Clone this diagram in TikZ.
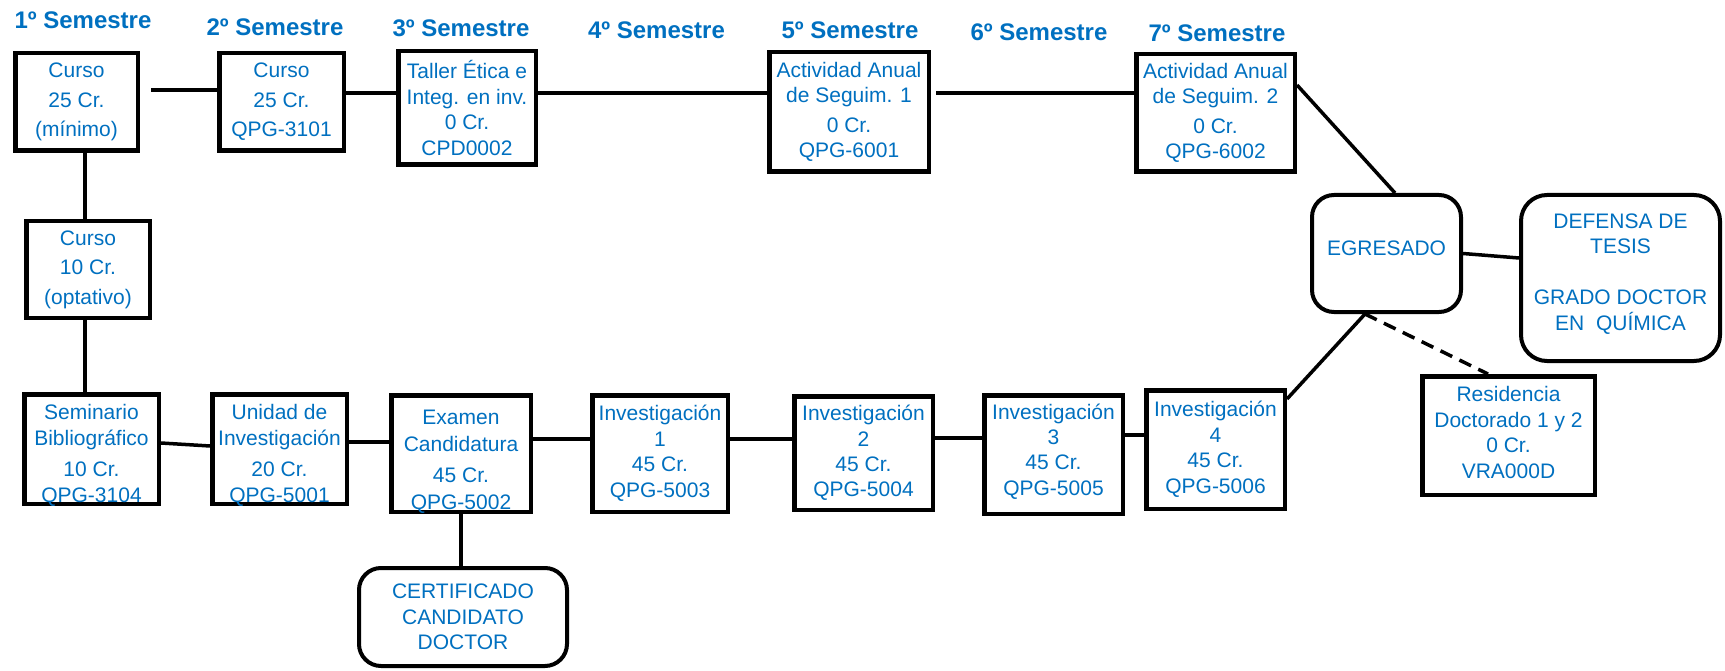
\documentclass[tikz,border=0pt]{standalone}
\usepackage{fontspec}
\setmainfont{Liberation Sans}
\definecolor{txtblue}{HTML}{0070C0}
\begin{document}
\begin{tikzpicture}[x=1pt,y=-1pt,
  box/.style={draw=black, line width=4.5pt, fill=white, inner sep=0pt},
  rbox/.style={box, line width=4pt, rounded corners=22pt},
  txt/.style={inner sep=0pt, align=center, text=txtblue, font=\fontsize{21}{25.5}\selectfont},
  widetxt/.style={txt, font=\fontsize{21}{29.5}\selectfont},
  semlabel/.style={text=txtblue, font=\fontsize{24}{28}\selectfont\bfseries, inner sep=0pt},
  conn/.style={draw=black, line width=3.5pt},
  dconn/.style={conn, dash pattern=on 13pt off 8pt}
]
\useasboundingbox (0,0) rectangle (1725,671);

% semester labels
\node[semlabel] (s1) at (83,20) {1º Semestre};
\node[semlabel] (s2) at (275,27) {2º Semestre};
\node[semlabel] (s3) at (461,28) {3º Semestre};
\node[semlabel] (s4) at (656.5,30) {4º Semestre};
\node[semlabel] (s5) at (850,30) {5º Semestre};
\node[semlabel] (s6) at (1039,32) {6º Semestre};
\node[semlabel] (s7) at (1217,33) {7º Semestre};

% ---------- boxes ----------
% top row
\node[box, minimum width=122.5, minimum height=97.5] (b1) at (76.5,102) {};
\node[widetxt] (b1t) at (b1.center) {Curso\\25 Cr.\\(mínimo)};
\node[box, minimum width=124.5, minimum height=97.5] (b2) at (281.5,102) {};
\node[widetxt] (b2t) at (b2.center) {Curso\\25 Cr.\\QPG-3101};
\node[box, minimum width=137.5, minimum height=113.5] (b3) at (467,108) {};
\node[txt] (b3t) at (b3.center) {Taller Ética e\\Integ. en inv.\\0 Cr.\\CPD0002};
\node[box, minimum width=159.5, minimum height=119.5] (b5) at (849,112) {};
\node[txt] (b5t) at (b5.center) {Actividad Anual\\de Seguim. 1\\[4pt]0 Cr.\\QPG-6001};
\node[box, minimum width=158.5, minimum height=117.5] (b7) at (1215.5,113) {};
\node[txt] (b7t) at (b7.center) {Actividad Anual\\de Seguim. 2\\[4pt]0 Cr.\\QPG-6002};

% left column
\node[box, minimum width=123.5, minimum height=96.5] (c10) at (88,269.5) {};
\node[widetxt] (c10t) at (c10.center) {Curso\\10 Cr.\\(optativo)};

% bottom row
\node[box, minimum width=134.5, minimum height=109.5] (sem) at (91.5,449) {};
\node[txt, font=\fontsize{21}{26.5}\selectfont] (semt) at ([yshift=-6.5pt]sem.center) {Seminario\\Bibliográfico\\[4pt]10 Cr.\\QPG-3104};
\node[box, minimum width=134.5, minimum height=109.5] (uni) at (279.5,449) {};
\node[txt, font=\fontsize{21}{26.5}\selectfont] (unit) at ([yshift=-6.5pt]uni.center) {Unidad de\\Investigación\\[4pt]20 Cr.\\QPG-5001};
\node[box, minimum width=139.5, minimum height=116.5] (exa) at (461,453.5) {};
\node[txt, font=\fontsize{21}{27}\selectfont] (exat) at ([yshift=-8.5pt]exa.center) {Examen\\Candidatura\\[4pt]45 Cr.\\QPG-5002};
\node[box, minimum width=135.5, minimum height=116.5] (inv1) at (660,453.5) {};
\node[txt] (inv1t) at (inv1.center) {Investigación\\1\\45 Cr.\\QPG-5003};
\node[box, minimum width=138.5, minimum height=113.5] (inv2) at (863.5,453) {};
\node[txt] (inv2t) at (inv2.center) {Investigación\\2\\45 Cr.\\QPG-5004};
\node[box, minimum width=138.5, minimum height=118.5] (inv3) at (1053.5,454.5) {};
\node[txt] (inv3t) at ([yshift=3pt]inv3.center) {Investigación\\3\\45 Cr.\\QPG-5005};
\node[box, minimum width=138.5, minimum height=118.5] (inv4) at (1215.5,449.5) {};
\node[txt] (inv4t) at (inv4.center) {Investigación\\4\\45 Cr.\\QPG-5006};

\node[rbox, minimum width=208, minimum height=98] (cert) at (463,617) {};
\node[txt] (certt) at (cert.center) {CERTIFICADO\\CANDIDATO\\DOCTOR};

% right side
\node[rbox, minimum width=149, minimum height=117] (egr) at (1386.5,253.5) {};
\node[txt] (egrt) at ([yshift=5pt]egr.center) {EGRESADO};
\node[rbox, minimum width=199, minimum height=166, rounded corners=26pt] (def) at (1620.5,278) {};
\node[txt] (deft) at ([yshift=4pt]def.center) {DEFENSA DE\\TESIS\\[25.5pt]GRADO DOCTOR\\EN~ QUÍMICA};
\node[box, minimum width=172.5, minimum height=118.5] (res) at (1508.5,435.5) {};
\node[txt] (rest) at ([yshift=3pt]res.center) {Residencia\\Doctorado 1 y 2\\0 Cr.\\VRA000D};

% ---------- connectors ----------
% top row
\draw[conn] ([xshift=11pt,yshift=12pt]b1.east) -- ([yshift=12pt]b2.west);
\draw[conn] ([yshift=9pt]b2.east) -- ([yshift=15pt]b3.west);
\draw[conn] ([yshift=15pt]b3.east) -- ([yshift=19pt]b5.west);
\draw[conn] ([xshift=5pt,yshift=19pt]b5.east) -- ([yshift=20pt]b7.west);
\draw[conn] ([yshift=28pt]b7.east) -- ([xshift=8.5pt]egr.north);

% left column
\draw[conn] ([xshift=8.5pt]b1.south) -- ([xshift=-3pt]c10.north);
\draw[conn] ([xshift=-3pt]c10.south) -- ([xshift=-6.5pt]sem.north);

% bottom row
\draw[conn] ([yshift=6pt]sem.east) -- ([yshift=3pt]uni.west);
\draw[conn] ([yshift=7pt]uni.east) -- ([yshift=11.5pt]exa.west);
\draw[conn] ([yshift=14.5pt]exa.east) -- ([yshift=14.5pt]inv1.west);
\draw[conn] ([yshift=14.5pt]inv1.east) -- ([yshift=14pt]inv2.west);
\draw[conn] ([yshift=15pt]inv2.east) -- ([yshift=16.5pt]inv3.west);
\draw[conn] ([yshift=19.5pt]inv3.east) -- ([yshift=14.5pt]inv4.west);
\draw[conn] (exa.south) -- ([xshift=-2pt]cert.north);

% right side
\draw[conn] ([yshift=-11pt]inv4.north east) -- ([xshift=-21.5pt]egr.south);
\draw[dconn] ([xshift=-21.5pt]egr.south) -- ([xshift=-20.5pt]res.north);
\draw[conn] (egr.east) -- ([yshift=20pt]def.west);
\end{tikzpicture}
\end{document}
